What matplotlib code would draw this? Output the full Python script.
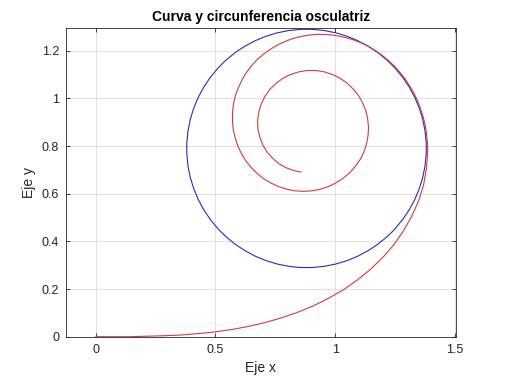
import matplotlib.pyplot as plt
from matplotlib.patches import Circle

# red curve (spiral)
curve_x = [0.000, 0.071, 0.142, 0.213, 0.284, 0.355, 0.426, 0.497, 0.567, 0.637,
           0.706, 0.775, 0.842, 0.908, 0.971, 1.033, 1.091, 1.146, 1.197, 1.244,
           1.284, 1.319, 1.348, 1.369, 1.381,
           1.386, 1.385, 1.381, 1.376, 1.368, 1.357, 1.345, 1.330, 1.312, 1.293,
           1.271, 1.248, 1.222, 1.195, 1.165, 1.135, 1.103, 1.069, 1.035, 1.000,
           0.965, 0.930, 0.894, 0.859, 0.825, 0.791, 0.759, 0.729, 0.700, 0.673,
           0.649, 0.628, 0.610, 0.595, 0.583, 0.575, 0.571, 0.571, 0.574, 0.582,
           0.593, 0.608, 0.626, 0.648, 0.673, 0.701, 0.731, 0.763, 0.797, 0.832,
           0.868, 0.903, 0.938, 0.972, 1.004, 1.033, 1.060, 1.084, 1.104, 1.120,
           1.131, 1.137, 1.139, 1.135, 1.127, 1.113, 1.096, 1.073, 1.047, 1.018,
           0.986, 0.952, 0.917, 0.882, 0.847, 0.813, 0.781, 0.753, 0.727, 0.707,
           0.691, 0.681, 0.676, 0.677, 0.685, 0.697, 0.716, 0.739, 0.766, 0.797,
           0.831, 0.857]
curve_y = [0.000, 0.000, 0.000, 0.002, 0.004, 0.007, 0.013, 0.020, 0.030, 0.043,
           0.059, 0.079, 0.102, 0.129, 0.161, 0.196, 0.237, 0.282, 0.331, 0.385,
           0.443, 0.505, 0.570, 0.638, 0.708,
           0.779, 0.814, 0.850, 0.885, 0.919, 0.953, 0.987, 1.019, 1.050, 1.080,
           1.108, 1.134, 1.159, 1.181, 1.202, 1.220, 1.235, 1.248, 1.257, 1.264,
           1.268, 1.269, 1.266, 1.260, 1.252, 1.239, 1.224, 1.206, 1.185, 1.162,
           1.135, 1.107, 1.076, 1.044, 1.011, 0.976, 0.941, 0.905, 0.870, 0.835,
           0.801, 0.769, 0.739, 0.711, 0.686, 0.663, 0.645, 0.630, 0.619, 0.612,
           0.610, 0.612, 0.619, 0.630, 0.646, 0.665, 0.688, 0.715, 0.744, 0.776,
           0.810, 0.845, 0.880, 0.916, 0.950, 0.983, 1.014, 1.041, 1.066, 1.086,
           1.101, 1.112, 1.117, 1.117, 1.111, 1.100, 1.084, 1.063, 1.038, 1.009,
           0.977, 0.943, 0.908, 0.873, 0.838, 0.805, 0.774, 0.748, 0.725, 0.708,
           0.696, 0.691]

# osculating circle
center = (0.880, 0.790)
radius = 0.500

xticks = [0, 0.5, 1, 1.5]
yticks = [0, 0.2, 0.4, 0.6, 0.8, 1, 1.2]

plt.rcParams['font.family'] = ['Liberation Sans', 'DejaVu Sans']

fig = plt.figure(figsize=(5.05, 3.79), dpi=100)
ax = fig.add_axes([0.1307, 0.1116, 0.7713, 0.8137])

ax.plot(curve_x, curve_y, color='#d23b3b', linewidth=0.8)
circ = Circle(center, radius, fill=False, edgecolor='#2b2bb8', linewidth=0.8)
ax.add_patch(circ)

ax.set_xlim(-0.124, 1.502)
ax.set_ylim(0, 1.294)
ax.set_xticks(xticks)
ax.set_xticklabels(['0', '0.5', '1', '1.5'])
ax.set_yticks(yticks)
ax.set_yticklabels(['0', '0.2', '0.4', '0.6', '0.8', '1', '1.2'])
ax.grid(True, color='#dcdcdc', linewidth=0.6)
ax.set_axisbelow(True)
ax.tick_params(direction='in', length=3, width=0.6, colors='#262626',
               labelsize=9, top=True, right=True, pad=5)
for sp in ax.spines.values():
    sp.set_color('#262626')
    sp.set_linewidth(0.6)

ax.set_title('Curva y circunferencia osculatriz', fontsize=10, fontweight='bold',
             pad=5)
ax.set_xlabel('Eje x', fontsize=10, color='#262626')
ax.set_ylabel('Eje y', fontsize=10, color='#262626')

fig.savefig('out.png', dpi=100)
